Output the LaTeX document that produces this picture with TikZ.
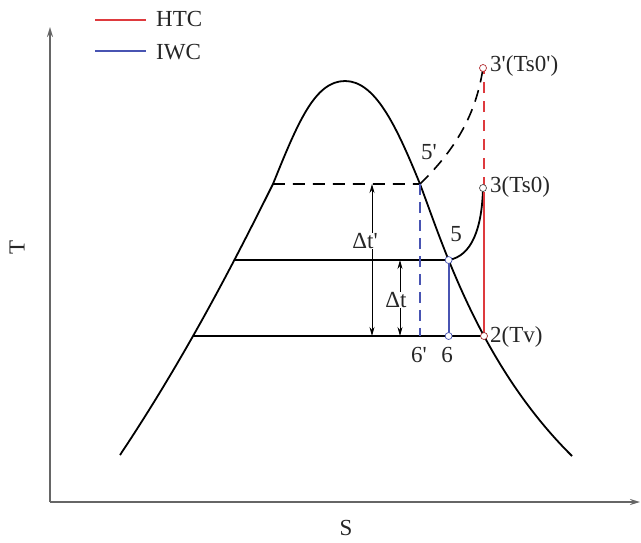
\documentclass[tikz,border=0pt]{standalone}
\usepackage{fontspec}
\setmainfont{Liberation Serif}
\usetikzlibrary{arrows.meta,intersections,calc}
\definecolor{htc}{RGB}{222,58,62}
\definecolor{iwc}{RGB}{72,84,178}
\newcommand{\pr}{\textquotesingle}
\begin{document}
\begin{tikzpicture}[x=1pt,y=-1pt,
  lbl/.style={font=\fontsize{23}{23}\selectfont, text=black!85, inner sep=1pt},
  curve/.style={line width=1.8pt, black},
  axis/.style={line width=2pt, black!60, -{Stealth[length=10pt,width=6pt]}},
  dim/.style={line width=0.8pt, {Stealth[length=9pt,width=5pt]}-{Stealth[length=9pt,width=5pt]}},
  mark pt/.style={circle, draw=black!70, line width=0.7pt, fill=white, minimum size=7pt, inner sep=0pt},
  blk dash/.style={line width=1.8pt, dash pattern=on 12pt off 8pt},
  red line/.style={line width=1.8pt, htc},
  blue line/.style={line width=1.8pt, iwc}]
\useasboundingbox (0,0) rectangle (641,542);
% axes
\coordinate (O) at (50,502);
\coordinate (Ytop) at (50,27);
\coordinate (Xend) at (640,502);
\draw[axis] (O) -- (Ytop);
\draw[axis] (O) -- (Xend);
\node[lbl, rotate=90] (Tlab) at (17,247) {T};
\node[lbl] (Slab) at (346,528) {S};
% legend
\coordinate (L1a) at (95,20); \coordinate (L1b) at (146,20);
\coordinate (L2a) at (95,51); \coordinate (L2b) at (146,51);
\draw[red line] (L1a) -- (L1b);
\draw[blue line] (L2a) -- (L2b);
\node[lbl, anchor=west] (htclab) at (155,19) {HTC};
\node[lbl, anchor=west] (iwclab) at (155,52) {IWC};
% dome
\draw[curve, name path=dome] (120,455) .. controls (190,350) and (240,250) .. (273,184)
  .. controls (298,122) and (315,81) .. (345,81)
  .. controls (375,81) and (396,125) .. (420,184)
  .. controls (443,245) and (480,365) .. (572,456);
\path[name path=h1] (100,184) -- (600,184);
\path[name path=h2] (100,260) -- (600,260);
\path[name path=h3] (100,336) -- (600,336);
\path[name intersections={of=dome and h1, name=a}];
\path[name intersections={of=dome and h2, name=b}];
\path[name intersections={of=dome and h3, name=c}];
% named points
\coordinate (A1) at (a-1);
\coordinate (B1) at (a-2);
\coordinate (A2) at (b-1);
\coordinate (P5) at (b-2);
\coordinate (A3) at (c-1);
\coordinate (P2) at (c-2);
\coordinate (P6) at (P5 |- P2);
\coordinate (P6p) at (B1 |- P2);
\coordinate (P3) at ($(P2 |- 0,188)+(-1,0)$);
\coordinate (P3p) at ($(P2 |- 0,68)+(-1,0)$);
\coordinate (R3) at (P2 |- 0,192);
\coordinate (R3b) at (P2 |- 0,188);
\coordinate (R3p) at (P2 |- 0,71);
\coordinate (D1t) at (372,184); \coordinate (D1b) at (372,336);
\coordinate (D2t) at (400,260); \coordinate (D2b) at (400,336);
% horizontal lines
\draw[blk dash] (A1) -- (B1);
\draw[curve] (A2) -- (P5);
\draw[curve] (A3) -- (P2);
% dashed curve to 3'
\draw[blk dash, line width=1.6pt] (B1) .. controls (455,150) and (476,115) .. (P3p);
% solid curve 5 -> 3
\draw[curve] (P5) .. controls (472,256) and (482,228) .. (P3);
% red lines
\draw[red line] (P2) -- (R3);
\draw[red line, dash pattern=on 11pt off 8pt] (R3b) -- (R3p);
% blue lines
\draw[blue line, dash pattern=on 11pt off 7pt] (B1) -- (P6p);
\draw[blue line] (P5) -- (P6);
% dimension lines
\draw[dim] (D1t) -- (D1b);
\draw[dim] (D2t) -- (D2b);
\node[lbl, fill=white, inner sep=0.5pt] (dtp) at (365,241) {Δt\pr};
\node[lbl, fill=white, inner sep=0.5pt] (dt) at (396,300) {Δt};
% marker points
\node[mark pt, draw=htc!80!black] (p3p) at (P3p) {};
\node[mark pt] (p3) at (P3) {};
\node[mark pt, draw=iwc] (p5) at (P5) {};
\node[mark pt, draw=iwc] (p6) at (P6) {};
\node[mark pt, draw=htc!70!black] (p2) at (P2) {};
% labels
\node[lbl, anchor=west] (l3p) at (489,66) {3\pr(Ts0\pr)};
\node[lbl, anchor=west] (l3) at (489,187) {3(Ts0)};
\node[lbl, anchor=west] (l2) at (489,337) {2(Tv)};
\node[lbl] (l5p) at (429,152) {5\pr};
\node[lbl] (l5) at (456,234) {5};
\node[lbl] (l6p) at (419,355) {6\pr};
\node[lbl] (l6) at (447,355) {6};
\end{tikzpicture}
\end{document}
